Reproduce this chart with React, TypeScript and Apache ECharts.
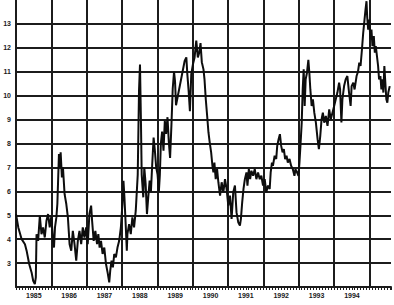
import React, { useEffect, useRef } from "react";
import * as echarts from "echarts";

// decimal years of the sampled points
const years = [
  1985.0, 1985.065, 1985.16, 1985.253, 1985.3, 1985.373, 1985.441, 1985.486, 1985.533, 1985.561,
  1985.581, 1985.626, 1985.674, 1985.721, 1985.766, 1985.814, 1985.862, 1985.907, 1985.954, 1986.002,
  1986.047, 1986.075, 1986.103, 1986.142, 1986.17, 1986.215, 1986.243, 1986.263, 1986.299, 1986.328,
  1986.375, 1986.423, 1986.468, 1986.516, 1986.563, 1986.608, 1986.656, 1986.704, 1986.749, 1986.796,
  1986.844, 1986.889, 1986.937, 1986.984, 1987.029, 1987.077, 1987.125, 1987.153, 1987.198, 1987.245,
  1987.293, 1987.329, 1987.366, 1987.405, 1987.45, 1987.498, 1987.546, 1987.591, 1987.638, 1987.666,
  1987.703, 1987.742, 1987.779, 1987.826, 1987.871, 1987.919, 1987.967, 1988.011, 1988.04, 1988.068,
  1988.107, 1988.135, 1988.152, 1988.2, 1988.247, 1988.292, 1988.34, 1988.388, 1988.444, 1988.48,
  1988.508, 1988.536, 1988.556, 1988.601, 1988.629, 1988.668, 1988.705, 1988.741, 1988.781, 1988.817,
  1988.853, 1988.893, 1988.929, 1988.966, 1989.005, 1989.042, 1989.07, 1989.098, 1989.134, 1989.173,
  1989.21, 1989.246, 1989.286, 1989.322, 1989.359, 1989.398, 1989.434, 1989.471, 1989.499, 1989.527,
  1989.771, 1989.819, 1989.847, 1989.884, 1989.92, 1989.959, 1990.004, 1990.052, 1990.1, 1990.144,
  1990.184, 1990.22, 1990.257, 1990.304, 1990.333, 1990.369, 1990.408, 1990.445, 1990.481, 1990.521,
  1990.557, 1990.585, 1990.613, 1990.65, 1990.689, 1990.725, 1990.773, 1990.818, 1990.866, 1990.913,
  1990.958, 1991.006, 1991.054, 1991.099, 1991.146, 1991.194, 1991.239, 1991.287, 1991.335, 1991.363,
  1991.399, 1991.436, 1991.475, 1991.52, 1991.548, 1991.587, 1991.624, 1991.66, 1991.708, 1991.755,
  1991.8, 1991.848, 1991.896, 1991.941, 1991.988, 1992.036, 1992.081, 1992.129, 1992.177, 1992.205,
  1992.241, 1992.269, 1992.317, 1992.362, 1992.39, 1992.429, 1992.466, 1992.502, 1992.541, 1992.578,
  1992.614, 1992.654, 1992.69, 1992.738, 1992.783, 1992.83, 1992.878, 1992.906, 1992.951, 1992.991,
  1993.019, 1993.047, 1993.083, 1993.111, 1993.139, 1993.167, 1993.195, 1993.232, 1993.271, 1993.299,
  1993.327, 1993.364, 1993.4, 1993.439, 1993.484, 1993.532, 1993.569, 1993.608, 1993.644, 1993.681,
  1993.72, 1993.765, 1993.813, 1993.861, 1993.905, 1993.953, 1994.001, 1994.046, 1994.093, 1994.141,
  1994.169, 1994.206, 1994.234, 1994.282, 1994.326, 1994.374, 1994.422, 1994.467, 1994.495, 1994.542,
  1994.579, 1994.635, 1994.675, 1994.711, 1994.748, 1994.787, 1994.823, 1994.86, 1994.888, 1994.916,
  1994.935, 1994.964, 1994.992, 1995.028, 1995.056, 1995.084, 1995.123, 1995.151, 1995.179, 1995.244,
  1995.272, 1995.309, 1995.337, 1995.365, 1995.393, 1995.421, 1995.449, 1995.477, 1995.505, 1995.533,
  1995.573,
];

const values = [
  5.05, 4.49, 4.0, 3.79, 3.52, 2.96, 2.61, 2.26, 2.12, 2.4,
  4.21, 3.93, 4.98, 4.21, 4.49, 4.07, 4.77, 5.05, 4.49, 4.98,
  3.93, 3.65, 4.49, 4.91, 5.47, 7.56, 7.0, 7.63, 6.58, 7.0,
  5.88, 5.47, 4.91, 3.79, 3.52, 4.35, 3.79, 3.1, 3.93, 4.35,
  3.79, 4.49, 4.07, 4.49, 3.79, 5.05, 5.4, 4.77, 3.93, 4.35,
  3.79, 4.21, 3.65, 3.93, 3.38, 3.65, 2.96, 2.61, 2.19, 2.68,
  3.1, 2.82, 3.38, 3.24, 3.65, 3.93, 4.49, 5.47, 6.44, 5.74,
  4.49, 3.52, 4.21, 4.63, 4.21, 4.91, 4.49, 5.19, 6.7, 10.2,
  11.3, 8.8, 6.7, 5.75, 7.0, 6.3, 5.05, 5.75, 6.45, 6.0,
  7.1, 8.25, 7.7, 7.0, 6.7, 6.0, 6.7, 8.0, 8.5, 7.7,
  8.95, 8.4, 9.1, 8.1, 7.4, 8.8, 10.3, 11.0, 10.6, 9.6,
  11.45, 11.6, 10.9, 10.2, 9.35, 10.9, 11.3, 11.6, 12.3, 11.6,
  11.8, 12.2, 11.4, 11.1, 10.68, 9.85, 9.15, 8.46, 8.04, 7.63,
  7.07, 6.79, 7.2, 6.51, 6.93, 6.38, 5.82, 6.38, 5.96, 6.51,
  6.1, 5.4, 5.82, 4.85, 5.96, 6.24, 5.12, 4.71, 4.57, 4.85,
  5.54, 6.1, 6.51, 6.79, 6.24, 6.93, 6.51, 6.86, 6.65, 6.93,
  6.51, 6.79, 6.51, 6.65, 6.24, 6.51, 5.96, 6.24, 6.1, 6.79,
  7.2, 7.07, 7.49, 7.35, 7.9, 8.18, 8.39, 7.9, 7.63, 7.76,
  7.35, 7.49, 7.2, 7.35, 7.07, 6.93, 6.65, 6.93, 6.79, 6.65,
  7.2, 7.9, 8.87, 10.26, 11.1, 9.57, 10.68, 10.96, 11.5, 10.96,
  10.26, 9.57, 9.85, 9.29, 8.87, 8.18, 7.76, 8.32, 9.01, 9.29,
  8.87, 9.15, 8.74, 9.43, 9.01, 9.29, 9.57, 9.85, 10.13, 10.54,
  10.26, 8.88, 9.85, 10.4, 10.68, 10.82, 10.13, 9.57, 10.4, 10.54,
  10.26, 10.82, 11.0, 11.38, 11.24, 11.93, 12.63, 13.18, 13.6, 13.95,
  13.3, 12.76, 13.18, 12.35, 12.76, 12.07, 12.49, 11.8, 12.07, 11.24,
  10.68, 10.82, 10.26, 10.68, 10.13, 11.24, 10.54, 9.85, 9.71, 10.13,
  10.4,
];

const yearLabels = ["1985", "1986", "1987", "1988", "1989", "1990", "1991", "1992", "1993", "1994"];
const yTickLabels = ["3", "4", "5", "6", "7", "8", "9", "10", "11", "12", "13"];

export default function App() {
  const ref = useRef<HTMLDivElement>(null);

  useEffect(() => {
    if (!ref.current) return;
    const chart = echarts.init(ref.current, null, { renderer: "svg" });
    const data = years.map((y, i) => [y, values[i]]);
    const gridColor = "#1c1c1c";
    const labelFont = "Liberation Sans, Arial, sans-serif";
    chart.setOption({
      animation: false,
      backgroundColor: "#ffffff",
      grid: { left: 16, right: 0, top: 0, bottom: 18, containLabel: false },
      xAxis: {
        type: "value",
        min: 1985,
        max: 1995.609,
        interval: 1,
        axisLine: { show: true, lineStyle: { color: gridColor, width: 2 } },
        axisTick: { show: true, length: 3, lineStyle: { color: gridColor, width: 1 } },
        minorTick: { show: true, splitNumber: 12, length: 3, lineStyle: { color: gridColor, width: 1 } },
        splitLine: { show: true, showMaxLine: false, lineStyle: { color: gridColor, width: 2 } },
        axisLabel: {
          show: true,
          margin: 5,
          color: "#1a1a1a",
          fontSize: 7,
          fontWeight: "bold",
          fontFamily: labelFont,
          showMinLabel: true,
          showMaxLabel: true,
          formatter: (v: number) => {
            const idx = Math.round(v) - 1985;
            if (Math.abs(v - Math.round(v)) > 1e-6 || idx < 0 || idx >= yearLabels.length) return "";
            return "{y|" + yearLabels[idx] + "}";
          },
          rich: {
            y: {
              padding: [0, 0, 0, 35.6],
              fontSize: 7,
              fontWeight: "bold",
              color: "#1a1a1a",
              fontFamily: labelFont,
            },
          },
        },
      },
      yAxis: {
        type: "value",
        min: 2,
        max: 14,
        interval: 1,
        axisLine: { show: true, lineStyle: { color: gridColor, width: 2 } },
        axisTick: { show: false },
        splitLine: { show: true, showMaxLine: false, showMinLine: false, lineStyle: { color: gridColor, width: 2 } },
        axisLabel: {
          margin: 5,
          fontSize: 7,
          fontWeight: "bold",
          color: "#1a1a1a",
          fontFamily: labelFont,
          formatter: (v: number) => {
            const s = String(Math.round(v));
            return yTickLabels.indexOf(s) >= 0 ? s : "";
          },
        },
      },
      series: [
        {
          type: "line",
          data,
          showSymbol: false,
          symbol: "none",
          lineStyle: { color: "#0d0d0d", width: 2 },
          clip: true,
        },
      ],
    });
    return () => chart.dispose();
  }, []);

  return (
    <div
      ref={ref}
      style={{ position: "fixed", left: 0, top: 0, width: 394, height: 305, background: "#fff" }}
    />
  );
}
